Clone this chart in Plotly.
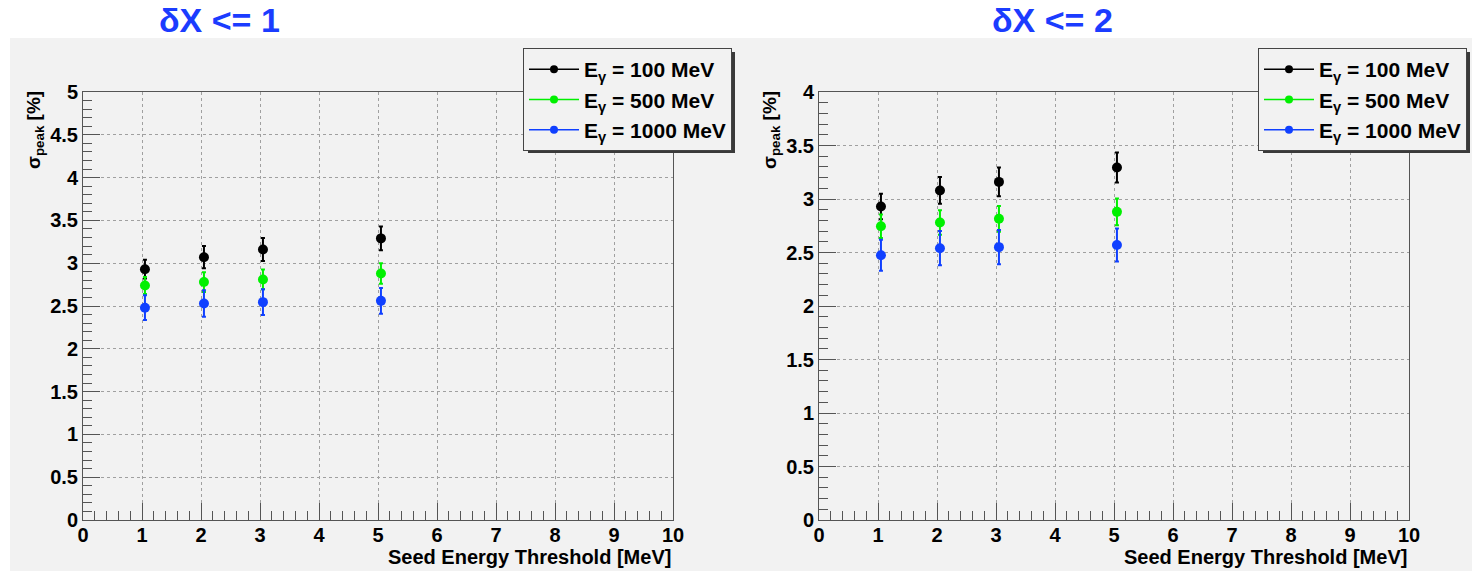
import plotly.graph_objects as go

# ---------------- data ----------------
thresholds = [1.05, 2.05, 3.05, 5.05]
series_names = ["E<sub>γ</sub> = 100 MeV", "E<sub>γ</sub> = 500 MeV", "E<sub>γ</sub> = 1000 MeV"]
series_colors = ["#000000", "#00f000", "#1040ff"]

# panel 1: dX <= 1
p1_e100 = [2.93, 3.07, 3.16, 3.29]
p1_e100_err = [0.11, 0.13, 0.135, 0.14]
p1_e500 = [2.74, 2.78, 2.81, 2.88]
p1_e500_err = [0.10, 0.115, 0.115, 0.12]
p1_e1000 = [2.48, 2.53, 2.545, 2.56]
p1_e1000_err = [0.145, 0.155, 0.15, 0.15]

# panel 2: dX <= 2
p2_e100 = [2.93, 3.08, 3.16, 3.295]
p2_e100_err = [0.12, 0.125, 0.135, 0.14]
p2_e500 = [2.745, 2.78, 2.815, 2.88]
p2_e500_err = [0.11, 0.115, 0.12, 0.125]
p2_e1000 = [2.475, 2.54, 2.55, 2.57]
p2_e1000_err = [0.145, 0.16, 0.16, 0.155]

panel_titles = ["δX <= 1", "δX <= 2"]
y_ranges = [[0, 5], [0, 4]]
x_title = "Seed Energy Threshold [MeV]"
y_title = "σ<sub>peak</sub> [%]"

# ---------------- layout geometry ----------------
W, H = 1472, 571
def px(x):
    return x / W
def py(y):
    return 1 - y / H

BG = "#f2f2f2"
FONT = "Liberation Sans, Arial, Helvetica, sans-serif"

fig = go.Figure()

panels = [
    (p1_e100, p1_e100_err, p1_e500, p1_e500_err, p1_e1000, p1_e1000_err),
    (p2_e100, p2_e100_err, p2_e500, p2_e500_err, p2_e1000, p2_e1000_err),
]

for i, pdata in enumerate(panels):
    xa = "x" if i == 0 else "x2"
    ya = "y" if i == 0 else "y2"
    lg = "legend" if i == 0 else "legend2"
    vals = [pdata[0], pdata[2], pdata[4]]
    errs = [pdata[1], pdata[3], pdata[5]]
    for name, col, v, e in zip(series_names, series_colors, vals, errs):
        fig.add_trace(go.Scatter(
            x=thresholds, y=v, mode="markers", name=name,
            marker=dict(color=col, size=10, symbol="circle"),
            error_y=dict(type="data", array=e, visible=True, color=col, thickness=2, width=2),
            xaxis=xa, yaxis=ya, showlegend=False,
        ))
    for name, col in zip(series_names, series_colors):
        fig.add_trace(go.Scatter(
            x=[None], y=[None], mode="lines+markers", name=name,
            marker=dict(color=col, size=8, symbol="circle"),
            line=dict(color=col, width=1.5),
            xaxis=xa, yaxis=ya, legend=lg, showlegend=True,
        ))

axis_common = dict(
    showline=True, linecolor="#555555", linewidth=1, mirror=True,
    ticks="inside", ticklen=17, tickwidth=1, tickcolor="#555555",
    showgrid=True, gridcolor="#a0a0a0", griddash="dot", gridwidth=1,
    zeroline=False, automargin=False,
    tickfont=dict(family=FONT, size=20, color="black", weight="bold"),
)

x_domains = [[px(83), px(673)], [px(819), px(1409)]]
y_domain = [py(520), py(92)]

fig.update_layout(
    xaxis=dict(domain=x_domains[0], range=[0, 10], dtick=1, anchor="y", ticklabelstandoff=-3,
               minor=dict(ticks="inside", ticklen=9, dtick=0.2, tickcolor="#555555", showgrid=False),
               **axis_common),
    yaxis=dict(domain=y_domain, range=y_ranges[0], dtick=0.5, anchor="x",
               minor=dict(ticks="inside", ticklen=9, dtick=0.1, tickcolor="#555555", showgrid=False),
               **axis_common),
    xaxis2=dict(domain=x_domains[1], range=[0, 10], dtick=1, anchor="y2", ticklabelstandoff=-3,
                minor=dict(ticks="inside", ticklen=9, dtick=0.2, tickcolor="#555555", showgrid=False),
                **axis_common),
    yaxis2=dict(domain=y_domain, range=y_ranges[1], dtick=0.5, anchor="x2",
                minor=dict(ticks="inside", ticklen=9, dtick=0.1, tickcolor="#555555", showgrid=False),
                **axis_common),
)

legend_common = dict(
    bgcolor=BG, bordercolor="#444444", borderwidth=1,
    font=dict(family=FONT, size=21, color="black", weight="bold"),
    xanchor="right", yanchor="top", tracegroupgap=0, itemwidth=50,
)
leg_right = [732, 1467]
fig.update_layout(
    legend=dict(x=px(leg_right[0]), y=py(48), **legend_common),
    legend2=dict(x=px(leg_right[1]), y=py(48), **legend_common),
)

shapes = [
    dict(type="rect", xref="paper", yref="paper", x0=px(10), x1=1, y0=0, y1=py(38),
         fillcolor=BG, line=dict(width=0), layer="below"),
]
# legend drop shadows
for r in leg_right:
    shapes.append(dict(type="rect", xref="paper", yref="paper",
                       x0=px(r - 204), x1=px(r + 3), y0=py(153), y1=py(52),
                       fillcolor="#3a3a3a", line=dict(width=0), layer="above"))
fig.update_layout(shapes=shapes)

annotations = []
title_x = [219, 1052]
for i in range(2):
    annotations.append(dict(
        text=panel_titles[i], xref="paper", yref="paper", x=px(title_x[i]), y=py(20),
        xanchor="center", yanchor="middle", showarrow=False,
        font=dict(family=FONT, size=34, color="#1b3cff", weight="bold"),
    ))
    xr = [673, 1409][i]
    annotations.append(dict(
        text=x_title, xref="paper", yref="paper", x=px(xr), y=py(557),
        xanchor="right", yanchor="middle", showarrow=False,
        font=dict(family=FONT, size=20, color="black", weight="bold"),
    ))
    yx = [35, 771][i]
    annotations.append(dict(
        text=y_title, xref="paper", yref="paper", x=px(yx), y=py(89),
        xanchor="center", yanchor="top", textangle=-90, showarrow=False,
        font=dict(family=FONT, size=19, color="black", weight="bold"),
    ))
fig.update_layout(annotations=annotations)

fig.update_layout(
    width=W, height=H,
    margin=dict(l=0, r=0, t=0, b=0, autoexpand=False),
    paper_bgcolor="white", plot_bgcolor=BG,
)

fig.write_html(
    "out.html",
    config={"displayModeBar": False},
    post_script="document.body.style.margin='0';",
)
